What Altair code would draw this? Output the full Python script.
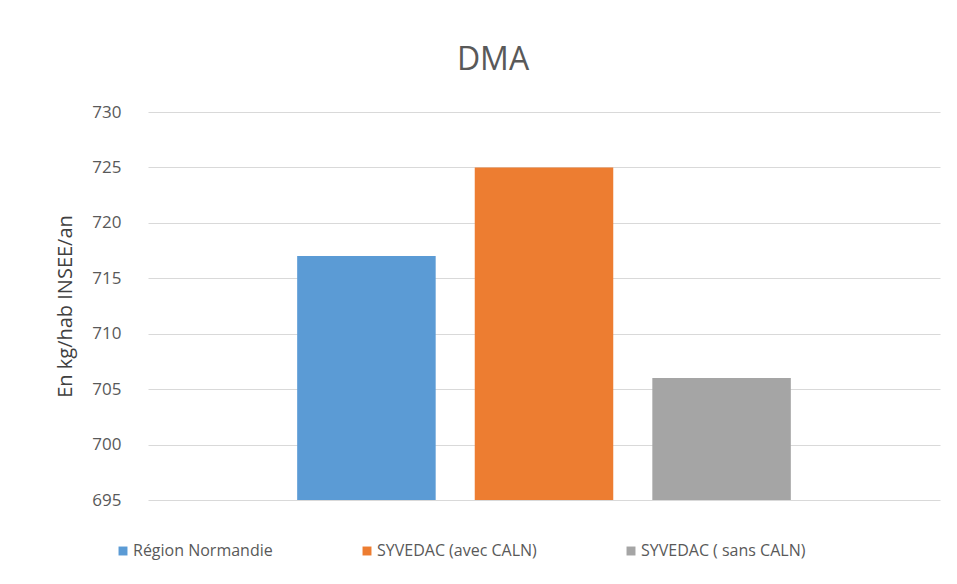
import altair as alt
import pandas as pd

series = ["Région Normandie", "SYVEDAC (avec CALN)", "SYVEDAC ( sans CALN)"]
values = [717, 725, 706]
colors = ["#5B9BD5", "#ED7D31", "#A5A5A5"]
y_ticks = [695, 700, 705, 710, 715, 720, 725, 730]

df = pd.DataFrame({"serie": series, "valeur": values})

FONT = "Open Sans"

chart = alt.Chart(df).mark_bar().encode(
    x=alt.X("serie:N", sort=series, axis=None,
            scale=alt.Scale(paddingInner=0.22, paddingOuter=0.84)),
    y=alt.Y("valeur:Q",
            scale=alt.Scale(domain=[695, 730], zero=False, nice=False),
            axis=alt.Axis(values=y_ticks, title="En kg/hab INSEE/an",
                          domain=False, ticks=False, labelPadding=27,
                          labelFontSize=17, labelColor="#595959", labelFont=FONT,
                          gridColor="#D9D9D9", gridWidth=1,
                          titleFontSize=20, titleFontWeight="normal",
                          titleColor="#404040", titleFont=FONT,
                          titleX=-83, titleY=194, titleAlign="center",
                          titleBaseline="middle", titleAngle=-90)),
    y2=alt.datum(695),
    color=alt.Color("serie:N", sort=series,
                    scale=alt.Scale(domain=series, range=colors),
                    legend=alt.Legend(title=None, orient="none", direction="horizontal",
                                      legendX=-33, legendY=431,
                                      symbolType="square", symbolSize=80,
                                      symbolStrokeWidth=0,
                                      labelFontSize=16, labelColor="#595959",
                                      labelFont=FONT, columnPadding=86,
                                      labelOffset=2, labelLimit=400)),
).properties(
    width=792,
    height=388,
    title=alt.TitleParams("DMA", fontSize=32, fontWeight="normal", color="#595959",
                          font=FONT, offset=26, dx=-51),
    autosize=alt.AutoSizeParams(type="none"),
    padding={"left": 140, "top": 104, "right": 9, "bottom": 76},
).configure_view(stroke=None)

chart.save("out.html", embed_options={"renderer": "svg", "actions": False})
